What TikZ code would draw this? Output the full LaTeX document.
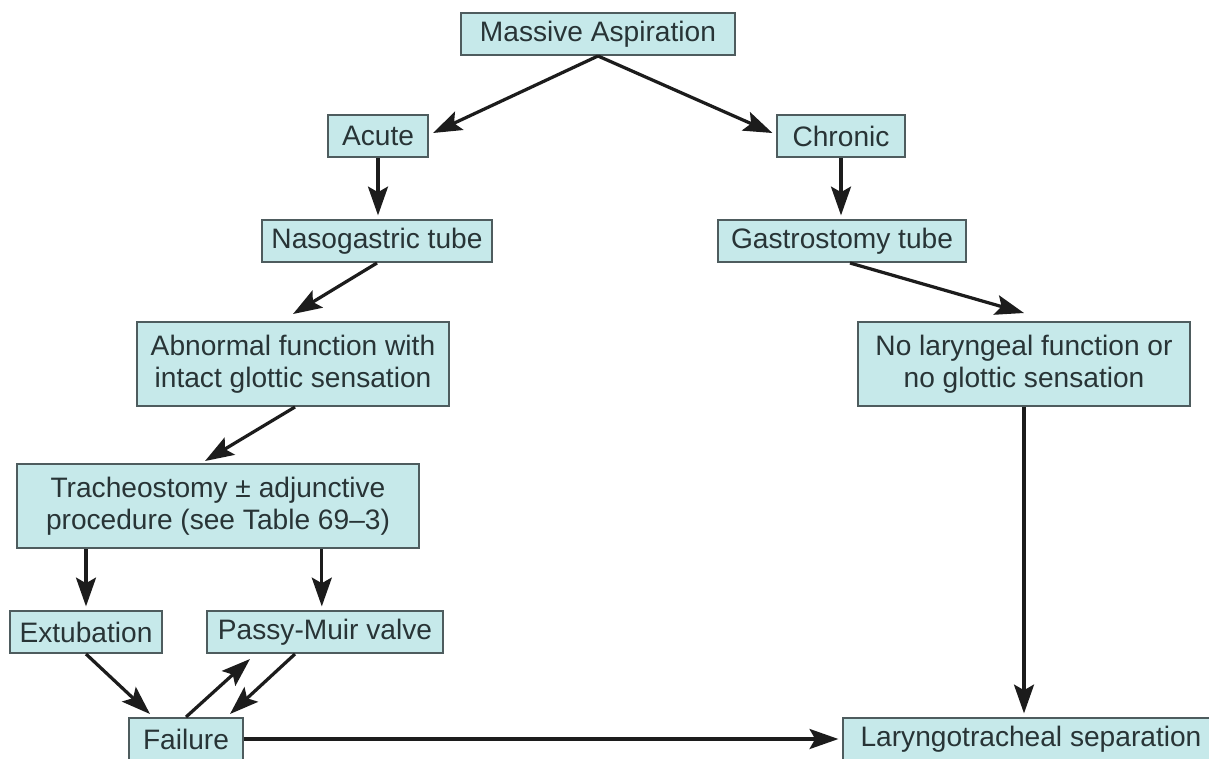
\documentclass[tikz,border=0pt]{standalone}
\usepackage{fontspec}
\setmainfont{Liberation Sans}
\usetikzlibrary{arrows.meta}

\definecolor{boxfill}{RGB}{198,233,234}
\definecolor{boxline}{RGB}{78,92,94}
\definecolor{boxtext}{RGB}{40,52,54}
\definecolor{arrowcol}{RGB}{28,28,28}

\begin{document}
\begin{tikzpicture}[x=0.025cm, y=-0.025cm,
	box/.style={draw=boxline, line width=1.4pt, fill=boxfill, text=boxtext, align=center,
		inner xsep=2pt, inner ysep=2pt, minimum height=1.05cm,
		font=\fontsize{20}{22.5}\selectfont},
	box2/.style={box, minimum height=2.1cm},
	flow/.style={draw=arrowcol, line width=2.3pt, -{Stealth[length=0.72cm, width=0.5cm, inset=0.14cm]}},
	gap/.style={shorten >=0.09cm}]
	\useasboundingbox (0,0) rectangle (1209,758);

	\node[box, minimum width=6.83cm] (MA) at (598,34) {Massive Aspiration};
	\node[box, minimum width=2.5cm] (Acute) at (378,136) {Acute};
	\node[box, minimum width=3.18cm] (Chronic) at (841,136) {Chronic};
	\node[box, minimum width=5.75cm] (Naso) at (377,241) {Nasogastric tube};
	\node[box, minimum width=6.2cm] (Gastro) at (842,241) {Gastrostomy tube};
	\node[box2, minimum width=7.78cm] (Abn) at (293,364) {Abnormal function with\\intact glottic sensation};
	\node[box2, minimum width=8.3cm] (NoLar) at (1024,364) {No laryngeal function or\\no glottic sensation};
	\node[box2, minimum width=10.05cm] (Trach) at (218,506) {Tracheostomy ± adjunctive\\procedure (see Table 69–3)};
	\node[box, minimum width=3.8cm] (Extub) at (86,632) {Extubation};
	\node[box, minimum width=5.88cm] (Passy) at (325,632) {Passy-Muir valve};
	\node[box, minimum width=2.83cm] (Fail) at (186,739) {Failure};
	\node[box, minimum width=9.4cm] (Laryn) at (1031,739) {Laryngotracheal separation};

	\draw[flow] (MA.south) -- ([shift={(4,-3)}]Acute.east);
	\draw[flow] (MA.south) -- ([shift={(-4,-3)}]Chronic.west);
	\draw[flow, gap] (Acute.south) -- (Acute.south |- Naso.north);
	\draw[flow, gap] (Chronic.south) -- (Chronic.south |- Gastro.north);
	\draw[flow] (Naso.south) -- ([shift={(0,-7)}]Abn.north);
	\draw[flow] ([xshift=0.2cm]Gastro.south) -- ([shift={(0,-8)}]NoLar.north);
	\draw[flow] ([xshift=0.05cm]Abn.south) -- ([shift={(-13,-2)}]Trach.north);
	\draw[flow, gap] (NoLar.south) -- (NoLar.south |- Laryn.north);
	\draw[flow, gap] (Extub.north |- Trach.south) -- (Extub.north);
	\draw[flow, gap] ([xshift=-0.08cm]Passy.north |- Trach.south) -- ([xshift=-0.08cm]Passy.north);
	\draw[flow] (Extub.south) -- ([shift={(-36,-3)}]Fail.north);
	\draw[flow] (Fail.north) -- ([shift={(-75,5)}]Passy.south);
	\draw[flow] ([xshift=-0.75cm]Passy.south) -- ([shift={(44,-3)}]Fail.north);
	\draw[flow, gap] (Fail.east) -- (Laryn.west);
\end{tikzpicture}
\end{document}
